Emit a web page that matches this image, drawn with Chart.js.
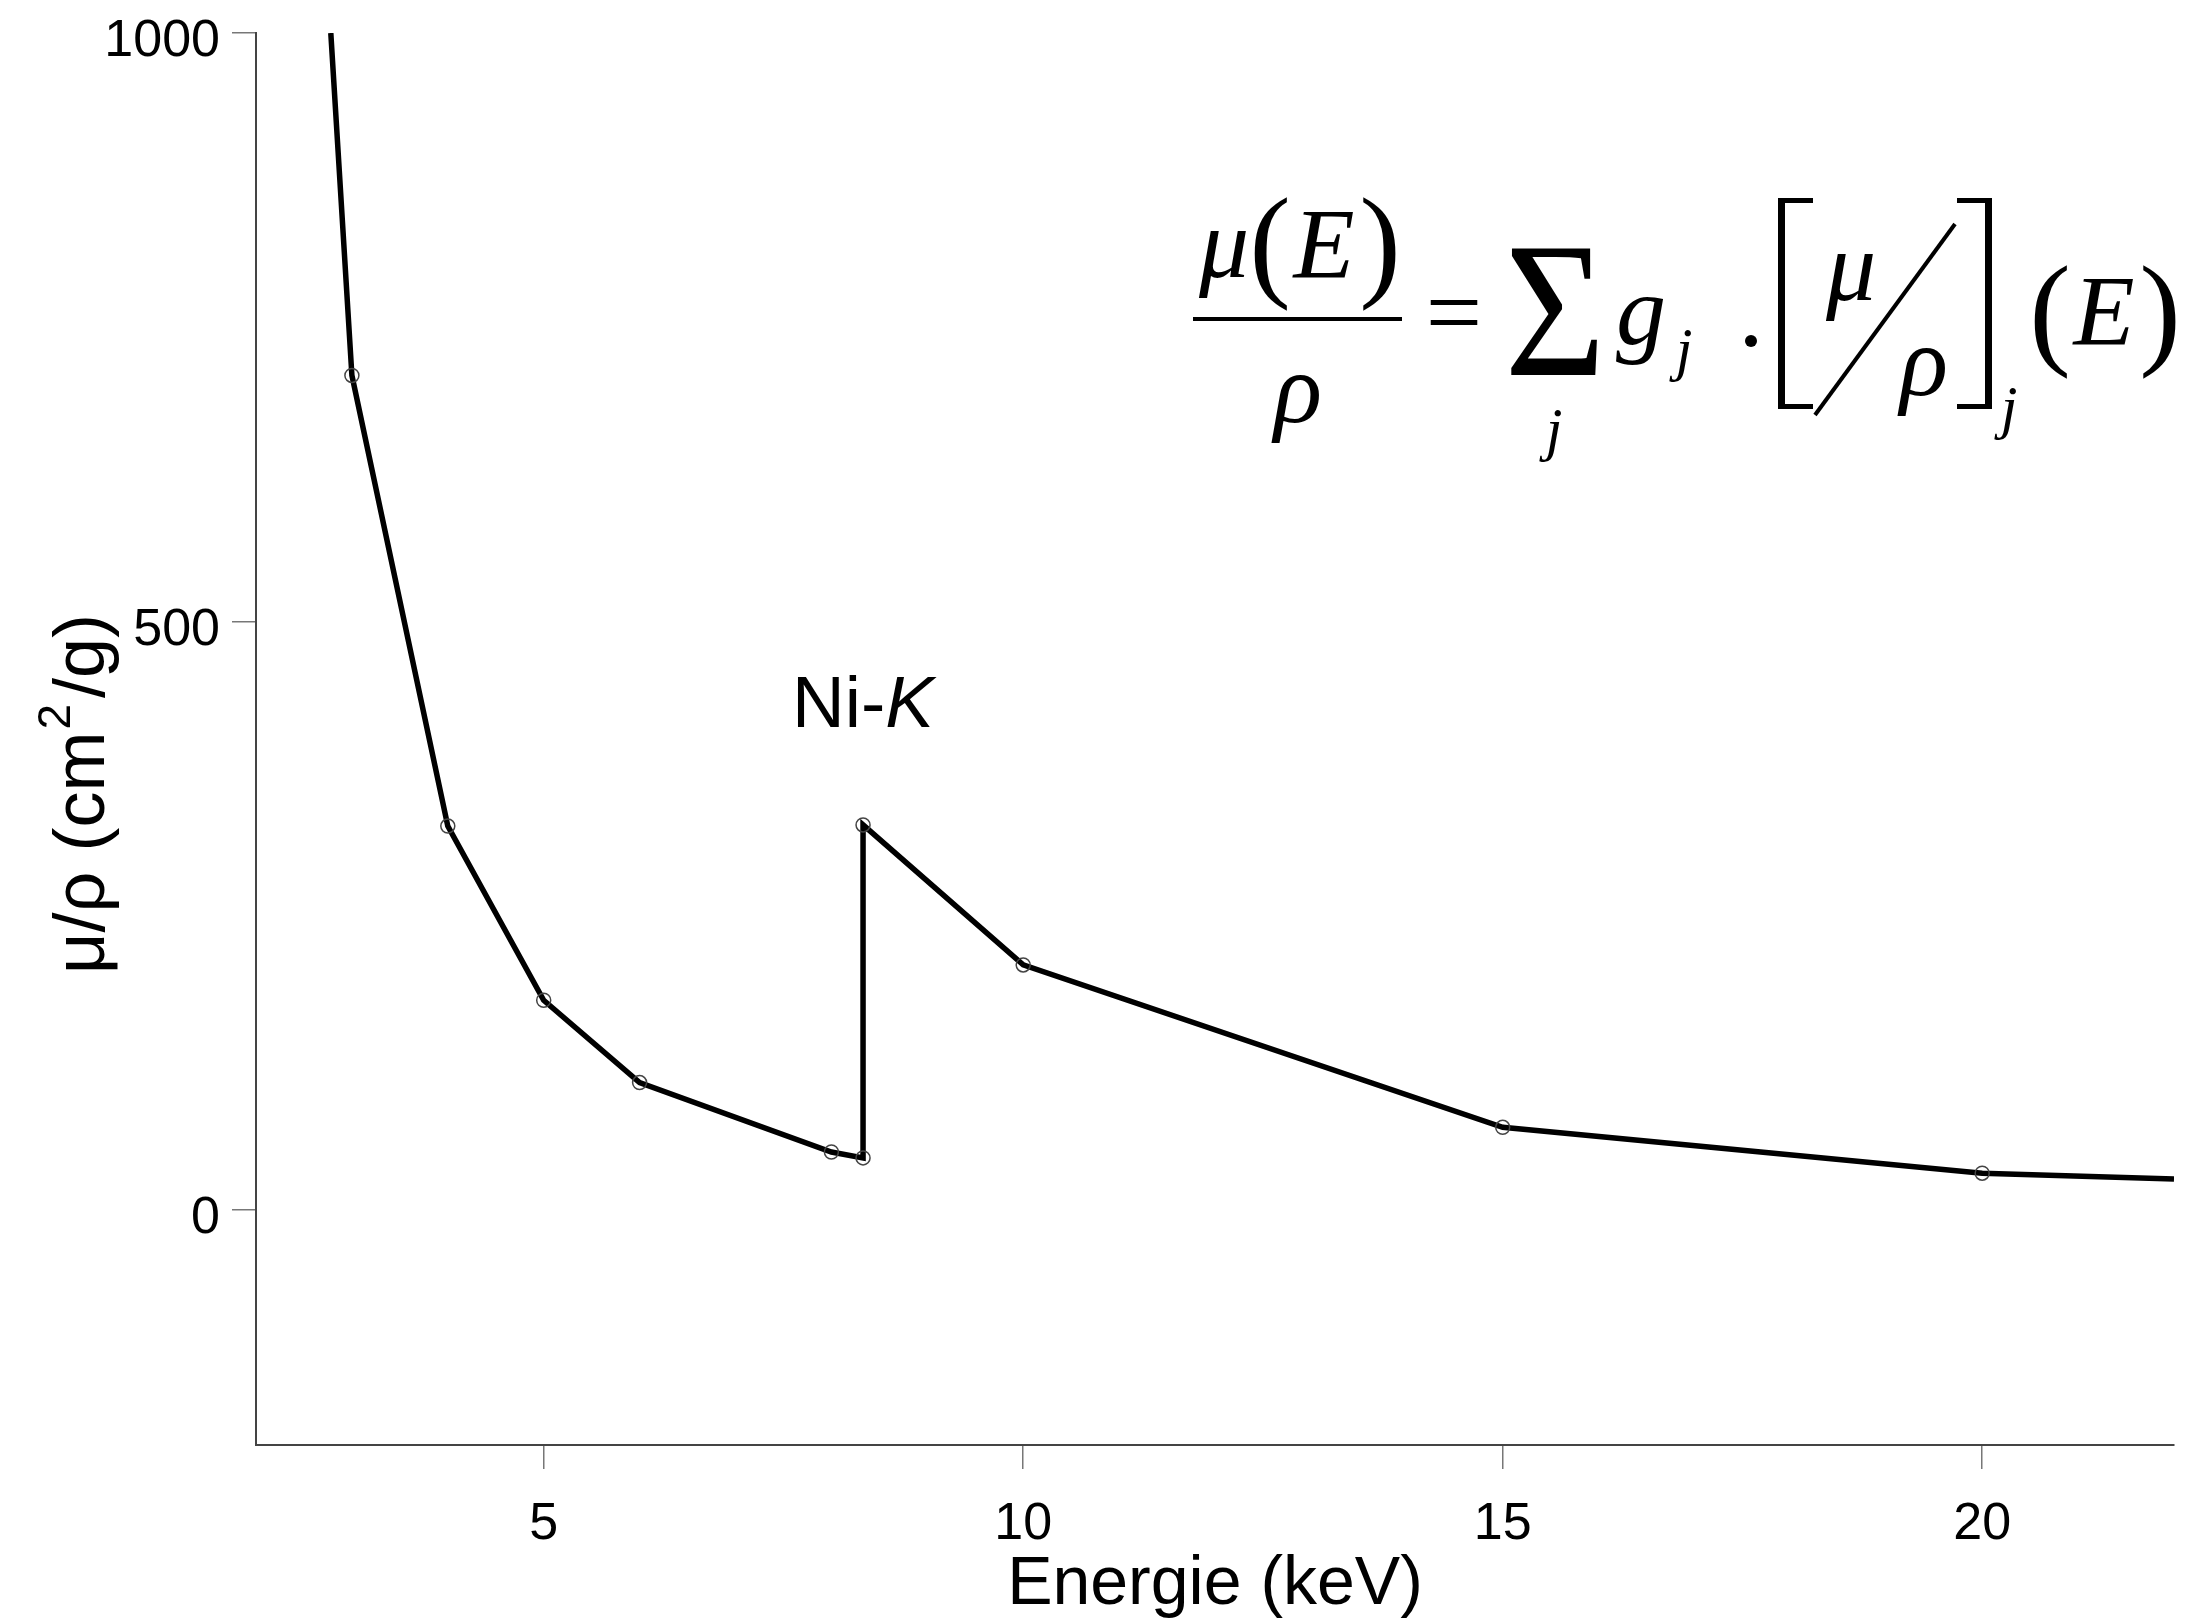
<!DOCTYPE html>
<html lang="de">
<head>
<meta charset="UTF-8" />
<title>Massenschwächungskoeffizient mu/rho</title>
<style>
  body { margin: 0; background: #fff; }
  #wrap { width: 2190px; height: 1619px; }
</style>
<script src="https://cdn.jsdelivr.net/npm/chart.js"></script>
</head>
<body>
<div id="wrap"><canvas id="muChart" width="2190" height="1619"></canvas></div>
<script>
// Energie (keV) und mu/rho (cm^2/g)
const energy = [2.78, 3, 4, 5, 6, 8, 8.33, 8.33, 10, 15, 20, 22];
const muRho = [1000, 709, 326, 178, 108, 49, 44, 327, 208, 70, 31, 26];
const markerShown = [false, true, true, true, true, true, true, true, true, true, true, false];
const xTicks = [5, 10, 15, 20];
const yTicks = [0, 500, 1000];
const edgeEnergy = 8.33;     // Ni-K Kante
const edgeLabelValue = 410;  // Hoehe der Beschriftung

const SANS = '"Liberation Sans", Arial, sans-serif';
const SERIF = '"Liberation Serif", "Times New Roman", serif';

function glyph(ctx, text, cx, base, font) {
  ctx.font = font;
  ctx.textAlign = 'center';
  ctx.textBaseline = 'alphabetic';
  ctx.fillText(text, cx, base);
}

function drawYTitle(ctx) {
  const parts = [
    { t: 'μ/ρ (cm', f: '72px ' + SANS, dy: 0, gap: 2 },
    { t: '2', f: '46px ' + SANS, dy: -34, gap: 6 },
    { t: '/g)', f: '72px ' + SANS, dy: 0, gap: 0 }
  ];
  ctx.save();
  ctx.translate(104, 794);
  ctx.rotate(-Math.PI / 2);
  ctx.textBaseline = 'alphabetic';
  ctx.textAlign = 'left';
  let total = 0;
  parts.forEach(p => { ctx.font = p.f; p.w = ctx.measureText(p.t).width + p.gap; total += p.w; });
  let x = -total / 2;
  parts.forEach(p => { ctx.font = p.f; ctx.fillText(p.t, x, p.dy); x += p.w; });
  ctx.restore();
}

function drawEdgeLabel(ctx, cx, base) {
  ctx.textBaseline = 'alphabetic';
  ctx.textAlign = 'left';
  ctx.font = '73px ' + SANS;
  const w1 = ctx.measureText('Ni-').width;
  ctx.font = 'italic 73px ' + SANS;
  const w2 = ctx.measureText('K').width;
  const x0 = cx - (w1 + w2) / 2;
  ctx.font = '73px ' + SANS;
  ctx.fillText('Ni-', x0, base);
  ctx.font = 'italic 73px ' + SANS;
  ctx.fillText('K', x0 + w1, base);
}

function drawFormula(ctx) {
  const it = 'italic 100px ' + SERIF;
  const sub = 'italic 60px ' + SERIF;
  const par = '125px ' + SERIF;
  // Bruch mu(E)/rho
  glyph(ctx, 'μ', 1224, 277, it);
  glyph(ctx, '(', 1270, 284, par);
  glyph(ctx, 'E', 1324, 277, it);
  glyph(ctx, ')', 1380, 284, par);
  ctx.fillRect(1193, 317, 209, 4);
  glyph(ctx, 'ρ', 1298, 422, it);
  glyph(ctx, '=', 1454, 346, '100px ' + SERIF);
  // Summe
  ctx.save();
  ctx.translate(1555, 375);
  ctx.scale(0.9, 1);
  glyph(ctx, 'Σ', 0, 0, '193px ' + SERIF);
  ctx.restore();
  glyph(ctx, 'j', 1554, 449, sub);
  glyph(ctx, 'g', 1641, 344, it);
  glyph(ctx, 'j', 1684, 369, sub);
  ctx.beginPath();
  ctx.arc(1751, 341, 6, 0, Math.PI * 2);
  ctx.fill();
  // [ mu / rho ]
  ctx.fillRect(1778, 198, 7, 211);
  ctx.fillRect(1778, 198, 35, 5);
  ctx.fillRect(1778, 404, 35, 5);
  glyph(ctx, 'μ', 1851, 300, it);
  ctx.beginPath();
  ctx.lineWidth = 4;
  ctx.moveTo(1955, 224);
  ctx.lineTo(1815, 415);
  ctx.stroke();
  glyph(ctx, 'ρ', 1924, 395, it);
  ctx.fillRect(1985, 198, 7, 211);
  ctx.fillRect(1957, 198, 35, 5);
  ctx.fillRect(1957, 404, 35, 5);
  glyph(ctx, 'j', 2009, 427, sub);
  glyph(ctx, '(', 2050, 352, par);
  glyph(ctx, 'E', 2104, 344, it);
  glyph(ctx, ')', 2160, 352, par);
}

const annotations = {
  id: 'annotations',
  afterDraw(chart) {
    const ctx = chart.ctx;
    const xs = chart.scales.x, ys = chart.scales.y;
    ctx.save();
    ctx.fillStyle = '#000';
    ctx.strokeStyle = '#000';
    drawYTitle(ctx);
    drawEdgeLabel(ctx, xs.getPixelForValue(edgeEnergy), ys.getPixelForValue(edgeLabelValue));
    drawFormula(ctx);
    ctx.restore();
  }
};

const points = energy.map((e, i) => ({ x: e, y: muRho[i] }));

new Chart(document.getElementById('muChart').getContext('2d'), {
  type: 'line',
  data: {
    datasets: [{
      data: points,
      borderColor: '#000',
      borderWidth: 5.5,
      tension: 0,
      fill: false,
      pointRadius: markerShown.map(s => (s ? 7 : 0)),
      pointBorderColor: '#444',
      pointBorderWidth: 1.5,
      pointBackgroundColor: 'rgba(0,0,0,0)'
    }]
  },
  options: {
    responsive: false,
    animation: false,
    devicePixelRatio: 1,
    layout: { padding: { top: 33, right: 16, left: 0, bottom: 0 } },
    plugins: { legend: { display: false }, tooltip: { enabled: false } },
    scales: {
      x: {
        type: 'linear',
        min: 2,
        max: 22,
        afterBuildTicks: s => { s.ticks = xTicks.map(v => ({ value: v })); },
        afterFit: s => { s.height = 174; s.paddingLeft = 0; s.paddingRight = 0; },
        grid: { drawOnChartArea: false, drawTicks: true, tickLength: 24, color: '#777', lineWidth: 1.5 },
        border: { display: true, color: '#444', width: 2 },
        ticks: {
          color: '#000',
          font: { family: SANS, size: 52 },
          padding: 24,
          maxRotation: 0,
          callback: v => String(v)
        },
        title: {
          display: true,
          text: 'Energie (keV)',
          color: '#000',
          font: { family: SANS, size: 68, lineHeight: 1 },
          padding: { top: 0, bottom: 0 }
        }
      },
      y: {
        type: 'linear',
        min: -200,
        max: 1000,
        afterBuildTicks: s => { s.ticks = yTicks.map(v => ({ value: v })); },
        afterFit: s => { s.width = 256; s.paddingTop = 0; s.paddingBottom = 0; },
        grid: { drawOnChartArea: false, drawTicks: true, tickLength: 24, color: '#777', lineWidth: 1.5 },
        border: { display: true, color: '#444', width: 2 },
        ticks: {
          color: '#000',
          font: { family: SANS, size: 52 },
          padding: 12,
          labelOffset: 9,
          callback: v => String(v)
        }
      }
    }
  },
  plugins: [annotations]
});
</script>
</body>
</html>
